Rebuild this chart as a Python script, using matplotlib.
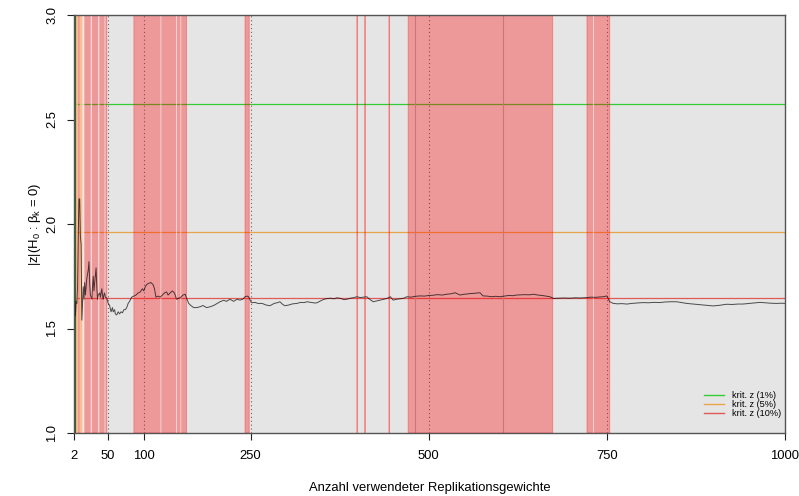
import matplotlib
matplotlib.use("Agg")
import matplotlib.pyplot as plt
from matplotlib.lines import Line2D

plt.rcParams['font.family'] = ['Liberation Sans', 'DejaVu Sans']
plt.rcParams['mathtext.fontset'] = 'custom'
plt.rcParams['mathtext.rm'] = 'Liberation Sans'
plt.rcParams['mathtext.it'] = 'Liberation Sans:italic'
plt.rcParams['mathtext.default'] = 'regular'

# |z| statistic by number of replication weights
n_weights = [2, 3, 4, 5, 6, 7, 8, 9, 10, 11, 12, 13, 14, 15, 16, 17, 18, 20, 22, 23, 24, 25, 27, 28, 29, 30,
             31, 33, 34, 35, 36, 38, 39, 41, 42, 43, 44, 45, 46, 48, 50, 52, 54, 56, 57, 59, 60, 62, 64, 66,
             68, 70, 72, 74, 76, 78, 80, 83, 86, 89, 92, 95, 98, 100, 102, 104, 106, 110, 113, 115, 117, 120,
             123, 126, 129, 132, 134, 137, 140, 143, 146, 149, 152, 155, 158, 160, 163, 166, 170, 174, 179,
             183, 188, 193, 198, 203, 207, 212, 216, 221, 226, 231, 235, 239, 242, 245, 247, 251, 256, 260,
             266, 272, 277, 283, 288, 291, 295, 298, 303, 309, 315, 320, 325, 329, 335, 340, 343, 348, 353,
             357, 362, 367, 371, 376, 381, 385, 390, 395, 399, 404, 409, 413, 417, 422, 427, 432, 437, 442,
             446, 450, 455, 460, 465, 469, 475, 481, 488, 494, 500, 506, 512, 519, 525, 531, 537, 541, 544,
             548, 553, 558, 563, 568, 572, 576, 582, 588, 594, 600, 606, 612, 618, 623, 629, 635, 641, 647,
             653, 659, 665, 670, 675, 682, 690, 698, 706, 712, 717, 722, 728, 734, 740, 745, 750, 754, 759,
             765, 771, 778, 785, 792, 801, 808, 816, 824, 832, 840, 848, 855, 862, 871, 880, 889, 899, 908,
             918, 926, 934, 941, 950, 958, 965, 972, 980, 988, 995, 1000]
z_abs = [1.51, 1.63, 1.56, 1.63, 1.62, 1.70, 1.95, 2.12, 2.12, 1.94, 1.90, 1.54, 1.62, 1.70, 1.64, 1.72,
         1.66, 1.74, 1.78, 1.82, 1.72, 1.66, 1.64, 1.70, 1.75, 1.68, 1.72, 1.79, 1.70, 1.64, 1.66, 1.67,
         1.65, 1.69, 1.66, 1.64, 1.66, 1.67, 1.65, 1.645, 1.62, 1.61, 1.58, 1.60, 1.58, 1.59, 1.57, 1.565,
         1.58, 1.57, 1.58, 1.575, 1.59, 1.59, 1.60, 1.62, 1.63, 1.65, 1.655, 1.66, 1.67, 1.675, 1.69, 1.68,
         1.70, 1.71, 1.715, 1.72, 1.71, 1.69, 1.65, 1.655, 1.65, 1.66, 1.67, 1.675, 1.66, 1.67, 1.68, 1.67,
         1.64, 1.645, 1.65, 1.66, 1.664, 1.645, 1.62, 1.61, 1.60, 1.60, 1.604, 1.61, 1.60, 1.604, 1.61,
         1.62, 1.628, 1.635, 1.63, 1.64, 1.63, 1.64, 1.636, 1.64, 1.652, 1.655, 1.652, 1.623, 1.625, 1.62,
         1.62, 1.612, 1.609, 1.62, 1.624, 1.628, 1.615, 1.609, 1.612, 1.618, 1.62, 1.625, 1.624, 1.628,
         1.625, 1.622, 1.623, 1.632, 1.64, 1.643, 1.645, 1.642, 1.647, 1.644, 1.638, 1.640, 1.645, 1.648,
         1.652, 1.648, 1.650, 1.652, 1.64, 1.628, 1.632, 1.636, 1.64, 1.645, 1.652, 1.636, 1.64, 1.642,
         1.645, 1.652, 1.65, 1.654, 1.656, 1.655, 1.658, 1.659, 1.662, 1.66, 1.664, 1.666, 1.671, 1.665,
         1.66, 1.663, 1.665, 1.667, 1.668, 1.670, 1.671, 1.656, 1.655, 1.652, 1.654, 1.652, 1.655, 1.658,
         1.657, 1.660, 1.661, 1.662, 1.661, 1.664, 1.66, 1.658, 1.655, 1.652, 1.644, 1.645, 1.646, 1.645,
         1.647, 1.646, 1.647, 1.648, 1.65, 1.649, 1.651, 1.652, 1.656, 1.628, 1.62, 1.618, 1.619, 1.617,
         1.62, 1.622, 1.624, 1.623, 1.625, 1.624, 1.627, 1.628, 1.628, 1.624, 1.62, 1.617, 1.614, 1.611,
         1.608, 1.611, 1.616, 1.615, 1.617, 1.617, 1.62, 1.623, 1.625, 1.623, 1.621, 1.62, 1.621, 1.620]

# ranges of n where the coefficient is significant
sig10_spans = [(3, 48), (86, 160), (242, 248), (399, 400), (410, 411), (444, 445), (471, 674), (722, 754)]
sig5_spans = [(5.2, 7.6), (10, 13.2)]
sig1_spans = [(2, 3)]
gap_spans = [(13.5, 16.5), (25.5, 27), (36, 37.5), (45, 46), (123.5, 124.5), (145.5, 146.5),
             (151.5, 152.5), (730.5, 731.5)]
faint_positions = [481, 604]

crit_values = [2.576, 1.96, 1.645]
crit_labels = ['krit. z (1%)', 'krit. z (5%)', 'krit. z (10%)']
crit_colors = ['#33cc33', '#e8a44a', '#e05a5a']

x_ticks = [2, 50, 100, 250, 500, 750, 1000]
y_ticks = [1.0, 1.5, 2.0, 2.5, 3.0]

fig = plt.figure(figsize=(7.99, 4.96), dpi=100)
ax = fig.add_axes([74 / 799, 1 - 433 / 496, 711 / 799, 418 / 496])
ax.set_facecolor('#e5e5e5')

# reference lines below the shading
for v in [50, 100, 250, 500, 750]:
    ax.axvline(v, color='#666666', lw=0.8, ls=(0, (1, 2.5)), zorder=1)
for v, c in zip(crit_values, crit_colors):
    ax.axhline(v, color=c, lw=0.9, zorder=1)
for p in faint_positions:
    ax.axvline(p, color='#b0b0b0', lw=0.8, zorder=1)

# significance shading
for a, b in sig10_spans:
    ax.axvspan(a, b, facecolor='red', alpha=0.33, lw=0.6, edgecolor='red', zorder=2, snap=False)
for a, b in sig5_spans:
    ax.axvspan(a, b, facecolor='#fbc98a', alpha=0.85, lw=0, zorder=2.2, snap=False)
for a, b in sig1_spans:
    ax.axvspan(a, b, facecolor='#2e6b1e', lw=0.8, edgecolor='#2e6b1e', zorder=2.2)
for a, b in gap_spans:
    ax.axvspan(a, b, facecolor='white', alpha=0.75, lw=0, zorder=2.5, snap=False)

ax.plot(n_weights, z_abs, color='black', alpha=0.68, lw=0.7, zorder=3)

ax.set_xlim(2, 1000)
ax.set_ylim(1, 3)
ax.set_xticks(x_ticks)
ax.set_yticks(y_ticks)
ax.set_yticklabels([f'{v:.1f}' for v in y_ticks], rotation=90, va='center')
ax.tick_params(axis='both', length=5, width=0.8, labelsize=9.4, color='#222222')
ax.tick_params(axis='x', pad=7)
ax.tick_params(axis='y', pad=6.5)
for s in ax.spines.values():
    s.set_color('#555555')
    s.set_linewidth(1.0)
    s.set_zorder(4)

ax.set_xlabel('Anzahl verwendeter Replikationsgewichte', fontsize=9.4, labelpad=15)
ax.set_ylabel(r'|z|(H$_0$ : $\beta_k$ = 0)', fontsize=9.4, labelpad=2)

handles = [Line2D([0], [0], color=c, lw=1.0) for c in crit_colors]
ax.legend(handles, crit_labels, loc='lower right', bbox_to_anchor=(0.994, 0.035), frameon=False,
          fontsize=6.6, handlelength=2.2, handletextpad=0.8, labelspacing=0.0,
          borderaxespad=0, borderpad=0)

fig.savefig('out.png', dpi=100)
